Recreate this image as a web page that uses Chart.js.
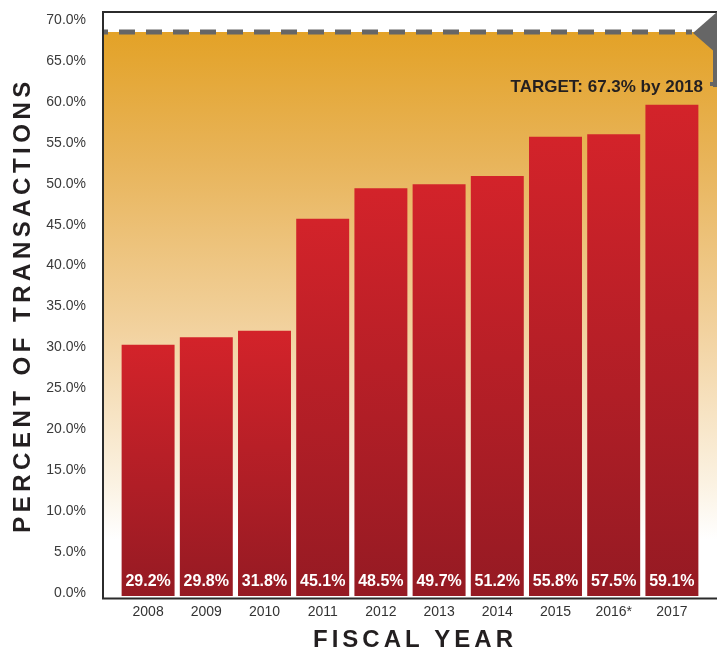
<!DOCTYPE html>
<html>
<head>
<meta charset="utf-8">
<script src="https://cdn.jsdelivr.net/npm/chart.js@4"></script>
<style>
  html, body { margin: 0; padding: 0; background: #fff; }
  #wrap { width: 717px; height: 652px; position: relative; }
</style>
</head>
<body>
<div id="wrap"><canvas id="grafico"></canvas></div>
<script>
const anios = ['2008', '2009', '2010', '2011', '2012', '2013', '2014', '2015', '2016*', '2017'];
// altura de las barras tal como se ven en la imagen
const alturas = [30.7, 31.6, 32.4, 46.1, 49.8, 50.3, 51.3, 56.1, 56.4, 60.0];
// valores impresos en cada barra
const etiquetas = [29.2, 29.8, 31.8, 45.1, 48.5, 49.7, 51.2, 55.8, 57.5, 59.1];
const meta = 68.9;
const textoMeta = 'TARGET: 67.3% by 2018';
const yMin = 0, yMax = 70, yPaso = 5;

const fondo = {
  id: 'fondo',
  beforeDraw(chart) {
    const { ctx, scales } = chart;
    const yMeta = scales.y.getPixelForValue(meta);
    const base = scales.y.getPixelForValue(0);
    const g = ctx.createLinearGradient(0, yMeta, 0, base);
    g.addColorStop(0, '#E3A227');
    g.addColorStop(0.23, '#E8B45A');
    g.addColorStop(0.53, '#F2D29F');
    g.addColorStop(0.8, '#FBF2E2');
    g.addColorStop(0.9, '#FFFFFF');
    ctx.save();
    ctx.fillStyle = g;
    ctx.fillRect(104, yMeta, 717 - 104, base + 2 - yMeta);
    ctx.restore();
  },
  afterDatasetsDraw(chart) {
    const { ctx, scales } = chart;
    const yMeta = scales.y.getPixelForValue(meta);
    const meta0 = chart.getDatasetMeta(0);
    ctx.save();
    // marco
    ctx.strokeStyle = '#2b2b2b';
    ctx.lineWidth = 2;
    ctx.beginPath();
    ctx.moveTo(717, 12);
    ctx.lineTo(103, 12);
    ctx.lineTo(103, 598.5);
    ctx.lineTo(717, 598.5);
    ctx.stroke();

    // linea de meta
    ctx.strokeStyle = '#666';
    ctx.lineWidth = 5;
    ctx.setLineDash([16, 11]);
    ctx.lineDashOffset = 12;
    ctx.beginPath();
    ctx.moveTo(104, yMeta);
    ctx.lineTo(692, yMeta);
    ctx.stroke();
    ctx.setLineDash([]);

    ctx.fillStyle = '#666';
    ctx.beginPath();
    ctx.moveTo(693, yMeta + 1);
    ctx.lineTo(717, yMeta - 20);
    ctx.lineTo(717, yMeta + 22);
    ctx.closePath();
    ctx.fill();
    ctx.fillRect(713, yMeta + 15, 4, 40);
    ctx.fillRect(710, yMeta + 50, 7, 4);

    ctx.fillStyle = '#231f20';
    ctx.font = 'bold 17px "Liberation Sans", Arial, sans-serif';
    ctx.textAlign = 'right';
    ctx.textBaseline = 'middle';
    ctx.fillText(textoMeta, 703, yMeta + 55);

    // etiquetas de las barras
    ctx.fillStyle = '#fff';
    ctx.font = 'bold 16px "Liberation Sans", Arial, sans-serif';
    ctx.textAlign = 'center';
    meta0.data.forEach((bar, i) => {
      ctx.fillText(etiquetas[i].toFixed(1) + '%', bar.x, 582);
    });

    // titulos de los ejes
    ctx.fillStyle = '#231f20';
    ctx.font = 'bold 24px "Liberation Sans", Arial, sans-serif';
    ctx.letterSpacing = '4px';
    ctx.textAlign = 'center';
    ctx.fillText('FISCAL YEAR', 415, 640);
    ctx.translate(23, 305);
    ctx.rotate(-Math.PI / 2);
    ctx.font = 'bold 24px "Liberation Sans", Arial, sans-serif';
    ctx.letterSpacing = '4.5px';
    ctx.fillText('PERCENT OF TRANSACTIONS', 0, 0);
    ctx.restore();
  }
};

function rellenoBarra(c) {
  const chart = c.chart;
  if (!chart.chartArea || !chart.scales.y) return '#C0202A';
  const y = chart.scales.y;
  const top = y.getPixelForValue(c.raw);
  const bottom = y.getPixelForValue(0);
  const g = chart.ctx.createLinearGradient(0, top, 0, bottom);
  g.addColorStop(0, '#D3232A');
  g.addColorStop(1, '#951A23');
  return g;
}

new Chart(document.getElementById('grafico'), {
  type: 'bar',
  data: {
    labels: anios,
    datasets: [{
      data: alturas,
      backgroundColor: rellenoBarra,
      borderWidth: 0,
      categoryPercentage: 1,
      barPercentage: 0.91
    }]
  },
  options: {
    responsive: true,
    maintainAspectRatio: false,
    animation: false,
    layout: { padding: { left: 0, top: 23, right: 16, bottom: 0 } },
    plugins: {
      legend: { display: false },
      tooltip: { enabled: false }
    },
    scales: {
      x: {
        grid: { display: false, drawTicks: false },
        border: { display: false },
        ticks: {
          color: '#333',
          padding: 8,
          font: { family: '"Liberation Sans", Arial, sans-serif', size: 14 }
        },
        afterFit: s => { s.height = 56; }
      },
      y: {
        min: yMin,
        max: yMax,
        grid: { display: false, drawTicks: false },
        border: { display: false },
        ticks: {
          stepSize: yPaso,
          color: '#3a3a3a',
          padding: 33,
          labelOffset: -3,
          font: { family: '"Liberation Sans", Arial, sans-serif', size: 14 },
          callback: v => v.toFixed(1) + '%'
        },
        afterFit: s => { s.width = 119; s.paddingTop = 0; s.paddingBottom = 0; }
      }
    }
  },
  plugins: [fondo]
});
</script>
</body>
</html>
